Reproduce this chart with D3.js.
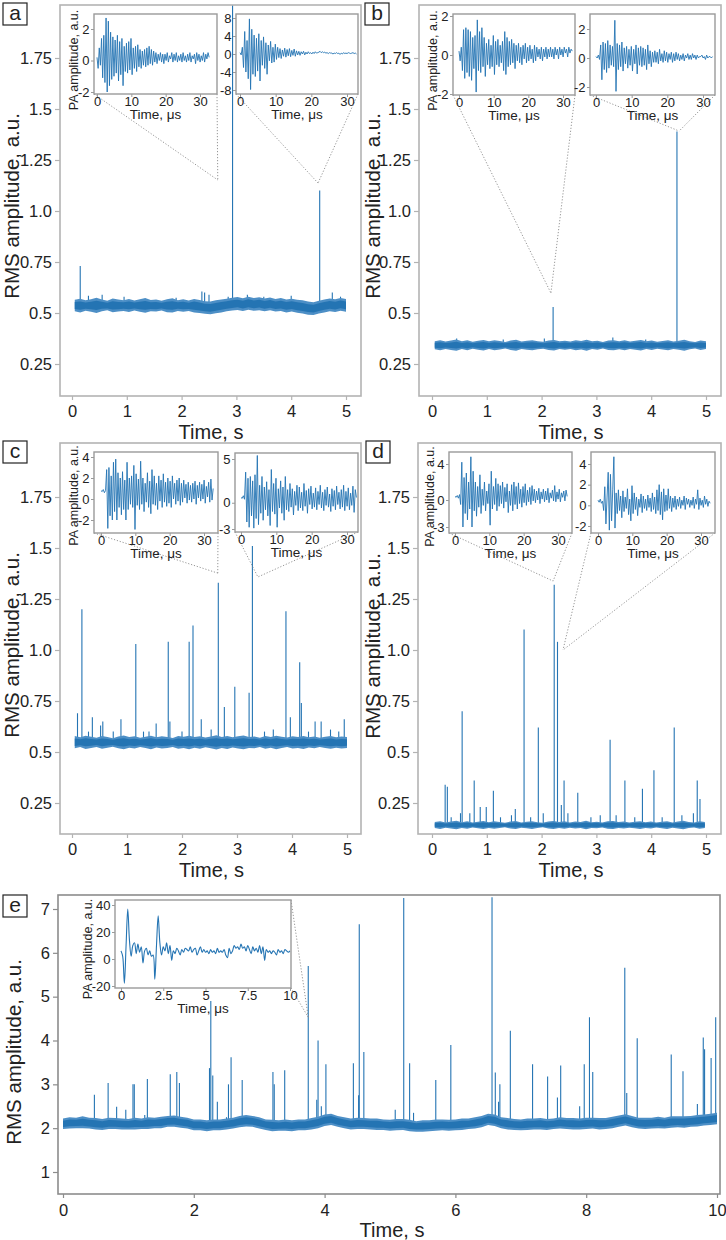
<!DOCTYPE html>
<html><head><meta charset="utf-8">
<script src="https://cdn.jsdelivr.net/npm/d3@7"></script>
<style>body{margin:0;background:#fff}svg{display:block}text{font-family:"Liberation Sans",Arial,sans-serif}</style>
</head><body><svg id="c" width="726" height="1240"></svg>
<script>
// ---------------- DATA ----------------
const timeTicks5 = [0,1,2,3,4,5];
const timeTicks10 = [0,2,4,6,8,10];
const rmsTicks = [0.25,0.5,0.75,1.0,1.25,1.5,1.75];
const rmsTickLabels = ["0.25","0.5","0.75","1.0","1.25","1.5","1.75"];
const rmsTicksE = [1,2,3,4,5,6,7];
const usTicks = [0,10,20,30];
const usTicksE = [0,2.5,5,7.5,10];
const usTickLabelsE = ["0","2.5","5","7.5","10"];

// baseline noise band (upper / lower envelopes), evenly spread over [t0,t1] seconds
const baseSpanA = [0.05,5.0];
const upperA = [0.565,0.57,0.562,0.568,0.575,0.566,0.56,0.571,0.566,0.563,0.569,0.561,0.567,0.573,0.564,0.566,0.56,0.568,0.572,0.563,0.567,0.561,0.569,0.564,0.558,0.556,0.562,0.566,0.57,0.575,0.578,0.572,0.58,0.574,0.577,0.571,0.576,0.569,0.573,0.566,0.57,0.565,0.562,0.556,0.553,0.56,0.566,0.571,0.568,0.574,0.569];
const lowerA = [0.508,0.503,0.511,0.506,0.5,0.509,0.513,0.504,0.507,0.51,0.505,0.512,0.506,0.501,0.509,0.507,0.512,0.504,0.502,0.51,0.506,0.51,0.503,0.5,0.496,0.494,0.499,0.503,0.508,0.512,0.515,0.51,0.516,0.511,0.514,0.508,0.513,0.507,0.51,0.503,0.507,0.501,0.497,0.492,0.49,0.497,0.503,0.508,0.505,0.511,0.506];
const spikesA = [[0.15,0.73],[2.93,2.1],[4.52,1.1],[0.3,0.585],[0.55,0.59],[0.95,0.58],[1.9,0.575],[2.37,0.605],[2.42,0.6],[2.5,0.59],[2.85,0.58],[3.2,0.59],[3.5,0.58],[4.0,0.585],[4.75,0.6],[4.9,0.58]];

const baseSpanB = [0.05,5.0];
const upperB = [0.362,0.367,0.36,0.365,0.37,0.361,0.366,0.359,0.364,0.368,0.361,0.366,0.363,0.358,0.365,0.369,0.36,0.364,0.367,0.362,0.359,0.365,0.368,0.361,0.364,0.36,0.366,0.363,0.369,0.361,0.364,0.358,0.365,0.367,0.362,0.366,0.36,0.364,0.368,0.361,0.365,0.359,0.363,0.367,0.36,0.364,0.369,0.362,0.358,0.365,0.361];
const lowerB = [0.322,0.317,0.324,0.319,0.315,0.323,0.318,0.325,0.32,0.316,0.323,0.318,0.321,0.326,0.319,0.315,0.324,0.32,0.317,0.322,0.325,0.319,0.316,0.323,0.32,0.324,0.318,0.321,0.315,0.323,0.32,0.326,0.319,0.317,0.322,0.318,0.324,0.32,0.316,0.323,0.319,0.325,0.321,0.317,0.324,0.32,0.315,0.322,0.326,0.319,0.323];
const spikesB = [[2.21,0.53],[4.47,1.39],[0.45,0.375],[1.3,0.37],[2.05,0.375],[3.3,0.38],[3.9,0.37]];

const baseSpanC = [0.05,5.0];
const upperC = [0.578,0.572,0.58,0.575,0.57,0.579,0.574,0.568,0.576,0.581,0.573,0.577,0.57,0.575,0.58,0.572,0.577,0.574,0.569,0.578,0.575,0.58,0.573,0.577,0.571,0.576,0.582,0.574,0.579,0.572,0.577,0.581,0.574,0.576,0.57,0.578,0.573,0.58,0.575,0.571,0.577,0.574,0.579,0.572,0.576,0.57,0.575,0.578,0.572,0.576,0.573];
const lowerC = [0.518,0.524,0.515,0.52,0.525,0.516,0.521,0.526,0.518,0.513,0.521,0.517,0.524,0.519,0.514,0.522,0.517,0.52,0.525,0.516,0.519,0.513,0.521,0.516,0.523,0.518,0.512,0.52,0.515,0.522,0.517,0.513,0.52,0.518,0.524,0.516,0.521,0.514,0.519,0.524,0.517,0.52,0.515,0.522,0.518,0.524,0.519,0.516,0.521,0.517,0.52];
const spikesC = [[0.10,0.69],[0.18,1.20],[0.37,0.67],[0.52,0.63],[0.56,0.65],[0.89,0.66],[1.16,1.03],[1.30,0.60],[1.53,0.64],[1.75,1.04],[1.78,0.65],[2.13,1.04],[2.20,1.12],[2.35,0.66],[2.53,0.61],[2.66,1.33],[2.77,0.72],[2.96,0.82],[3.22,0.79],[3.28,1.51],[3.66,0.61],[3.89,1.19],[3.97,0.67],[4.14,0.94],[4.17,0.74],[4.42,0.65],[4.53,0.65],[4.95,0.66],[0.3,0.6],[0.75,0.6],[1.4,0.6],[2.0,0.6],[3.5,0.6],[4.3,0.6],[4.7,0.61],[4.85,0.6]];

const baseSpanD = [0.05,4.98];
const upperD = [0.157,0.161,0.155,0.159,0.163,0.156,0.16,0.154,0.158,0.162,0.156,0.16,0.157,0.153,0.159,0.162,0.155,0.158,0.161,0.156,0.153,0.159,0.162,0.157,0.16,0.155,0.159,0.157,0.163,0.156,0.158,0.154,0.16,0.162,0.157,0.159,0.155,0.158,0.161,0.156,0.159,0.154,0.158,0.161,0.155,0.159,0.163,0.157,0.154,0.16,0.157];
const lowerD = [0.127,0.123,0.129,0.125,0.121,0.128,0.124,0.13,0.126,0.122,0.128,0.124,0.127,0.131,0.125,0.122,0.129,0.126,0.123,0.128,0.131,0.125,0.122,0.127,0.124,0.129,0.125,0.127,0.121,0.128,0.126,0.13,0.124,0.122,0.127,0.125,0.129,0.126,0.123,0.128,0.125,0.13,0.126,0.123,0.129,0.125,0.121,0.127,0.13,0.124,0.127];
const spikesD = [[0.24,0.34],[0.28,0.33],[0.52,0.2],[0.55,0.70],[0.69,0.2],[0.77,0.36],[0.88,0.23],[0.99,0.23],[1.12,0.31],[1.45,0.19],[1.52,0.22],[1.68,1.10],[1.94,0.62],[2.03,0.2],[2.23,1.32],[2.29,1.04],[2.36,0.24],[2.41,0.36],[2.48,0.2],[2.66,0.30],[3.07,0.19],[3.25,0.56],[3.36,0.19],[3.52,0.36],[3.84,0.32],[4.05,0.41],[4.42,0.62],[4.56,0.19],[4.77,0.2],[4.84,0.36],[4.89,0.27],[0.35,0.18],[1.25,0.18],[1.8,0.18],[2.9,0.18],[3.7,0.18],[4.2,0.18]];

const baseSpanE = [0.0,10.0];
const upperE = [2.22,2.25,2.24,2.27,2.24,2.23,2.21,2.24,2.23,2.22,2.21,2.24,2.22,2.25,2.24,2.26,2.28,2.29,2.26,2.24,2.2,2.2,2.18,2.2,2.2,2.22,2.24,2.28,2.3,2.28,2.25,2.2,2.19,2.18,2.2,2.18,2.2,2.2,2.23,2.26,2.31,2.33,2.28,2.25,2.22,2.24,2.23,2.22,2.22,2.2,2.19,2.21,2.21,2.19,2.16,2.18,2.18,2.2,2.2,2.19,2.2,2.22,2.22,2.25,2.28,2.33,2.31,2.25,2.23,2.21,2.2,2.22,2.22,2.23,2.21,2.22,2.25,2.23,2.23,2.22,2.24,2.24,2.23,2.23,2.26,2.29,2.32,2.28,2.24,2.24,2.24,2.26,2.24,2.27,2.27,2.27,2.28,2.3,2.31,2.33,2.35];
const lowerE = [1.98,1.99,2.0,2.0,1.99,1.97,1.96,1.98,1.98,1.97,1.97,1.97,1.98,1.98,2.0,2.0,2.03,2.03,2.01,1.99,1.95,1.95,1.93,1.95,1.95,1.97,1.99,2.02,2.04,2.03,1.99,1.96,1.93,1.94,1.94,1.93,1.95,1.95,1.97,2.0,2.05,2.07,2.03,2.0,1.97,1.98,1.98,1.97,1.96,1.96,1.94,1.95,1.96,1.93,1.92,1.92,1.93,1.94,1.95,1.94,1.95,1.96,1.98,1.99,2.02,2.07,2.05,2.0,1.97,1.96,1.95,1.96,1.97,1.97,1.96,1.98,1.99,1.98,1.97,1.97,1.98,1.99,1.97,1.98,2.0,2.03,2.06,2.02,1.99,1.98,1.99,2.0,1.99,2.01,2.02,2.01,2.03,2.04,2.06,2.07,2.09];
const spikesE = [[0.48,2.76],[0.69,3.03],[0.82,2.49],[0.96,2.42],[1.07,3.0],[1.09,3.0],[1.29,3.12],[1.64,3.23],[1.74,3.28],[1.78,3.03],[2.24,3.37],[2.26,4.9],[2.29,3.2],[2.36,2.6],[2.53,3.0],[2.57,3.62],[2.74,3.1],[3.21,3.28],[3.23,3.0],[3.39,3.32],[3.75,5.7],[3.88,2.65],[3.90,4.0],[3.95,2.5],[4.02,3.46],[4.44,3.48],[4.52,2.75],[4.53,6.65],[4.60,3.74],[5.08,2.42],[5.21,7.25],[5.30,3.48],[5.36,2.35],[5.70,3.1],[5.93,3.9],[6.56,7.27],[6.61,3.27],[6.66,2.6],[6.68,3.0],[6.84,4.22],[7.18,3.46],[7.41,3.18],[7.56,2.7],[7.61,3.43],[7.90,2.5],[7.97,3.46],[8.05,4.53],[8.10,3.28],[8.59,5.66],[8.62,2.8],[8.78,4.05],[9.30,3.68],[9.48,3.3],[9.70,2.55],[9.79,4.07],[9.81,3.8],[9.91,3.6],[9.98,4.53],[1.25,2.3],[2.5,2.25]];

// photoacoustic waveforms (sample step in microseconds)
const waveStep = 0.33;
const waveA1 = [0.2,-0.5,0.8,-0.3,1.4,-1.1,1.6,-1.4,2.7,-2.0,2.5,-1.6,1.8,-1.2,1.5,-1.0,1.3,-0.8,1.6,-1.3,1.2,-0.9,1.4,-1.6,0.9,-0.7,1.1,-0.8,1.2,-0.6,1.4,-0.9,0.8,-0.5,0.9,-0.7,1.0,-0.4,0.7,-0.5,0.6,-0.3,0.7,-0.4,0.8,-0.3,0.9,-0.2,0.7,-0.3,0.6,-0.1,0.5,-0.2,0.4,0.0,0.5,-0.1,0.4,-0.2,0.4,0.0,0.5,-0.1,0.3,0.1,0.5,-0.1,0.4,0.0,0.5,-0.1,0.3,0.0,0.4,-0.1,0.5,0.0,0.3,-0.1,0.4,0.0,0.5,-0.1,0.3,0.1,0.4,-0.2,0.5,0.0,0.4,-0.1,0.3,0.0,0.5,-0.1,0.4,0.1,0.5,0.2];
const waveA2 = [0.3,-0.2,1.5,-3.0,5.0,-4.0,3.0,-5.5,7.8,-7.9,5.5,-4.5,4.2,-5.0,3.5,-3.8,4.5,-6.0,3.0,-2.5,3.8,-3.2,2.5,-4.5,2.0,-1.5,2.8,-2.0,1.5,-1.8,2.2,-1.2,1.5,-0.8,1.2,-1.0,0.9,-0.5,1.3,-0.7,1.0,-0.4,1.2,-0.6,0.8,-0.3,1.1,-0.5,0.7,-0.2,0.6,-0.3,0.5,0.0,0.6,-0.2,0.4,0.0,0.5,0.1,0.3,0.0,0.4,0.1,0.5,0.2,0.3,0.4,0.6,0.3,0.5,0.3,0.4,0.2,0.3,0.1,0.3,0.2,0.2,0.0,0.2,0.1,0.3,0.1,0.2,-0.1,0.2,0.0,0.3,0.1,0.2,0.1,0.3,0.2,0.1,0.2,0.3,0.1,0.2,0.0];
const waveB1 = [0.2,-0.3,0.4,-0.8,1.3,-1.2,1.4,-0.9,1.3,-1.1,1.2,-1.3,0.9,-0.7,1.0,-1.9,1.8,-0.8,1.2,-0.9,1.4,-0.6,0.9,-1.1,0.6,-0.5,0.8,-0.7,0.5,-0.6,1.0,-1.0,0.7,-0.5,0.8,-0.6,0.5,-0.4,0.7,-0.8,1.2,-1.0,0.9,-0.6,0.7,-0.5,0.8,-0.4,0.6,-0.7,0.5,-0.3,0.6,-0.4,0.4,-0.5,0.5,-0.2,0.6,-0.4,0.4,-0.3,0.5,-0.2,0.3,-0.4,0.5,-0.3,0.4,-0.1,0.3,-0.2,0.4,-0.3,0.3,-0.1,0.4,-0.2,0.3,-0.1,0.4,-0.1,0.3,-0.2,0.4,0.0,0.3,-0.2,0.4,0.0,0.3,-0.1,0.4,0.1,0.3,-0.1,0.4,0.1,0.3,0.2];
const waveB2 = [0.1,0.0,0.2,-0.1,0.9,-1.5,1.1,-0.8,1.0,-1.0,1.2,-0.7,0.9,-0.5,0.8,-0.6,2.6,-2.3,1.0,-0.8,0.9,-0.6,1.1,-0.9,0.7,-0.4,0.8,-0.7,0.6,-0.5,0.8,-0.9,0.6,-0.4,0.9,-1.1,0.7,-0.5,0.8,-0.6,0.7,-0.5,0.6,-0.8,0.9,-0.4,0.5,-0.6,0.4,-0.3,0.5,-0.3,0.4,-0.4,0.6,-0.2,0.3,-0.3,0.5,-0.2,0.4,-0.3,0.3,-0.1,0.4,-0.3,0.3,-0.2,0.4,-0.1,0.3,-0.2,0.2,-0.1,0.3,-0.2,0.2,0.0,0.3,-0.1,0.2,-0.1,0.3,0.0,0.2,-0.1,0.2,0.0,0.1,0.1,0.2,0.0,0.1,-0.1,0.2,0.0,0.1,0.1,0.0,0.1];
const waveC1 = [0.8,0.7,0.9,0.6,0.8,2.8,-2.8,3.0,-1.6,2.2,-2.0,3.5,-1.2,3.8,-2.0,2.5,-0.8,2.0,-1.5,2.6,-1.0,1.8,-2.0,3.5,-1.0,2.0,-0.5,2.2,-0.8,3.2,-2.9,2.4,-0.6,1.9,-1.0,3.6,-0.5,2.0,-1.2,1.5,-0.3,2.5,-0.8,1.7,-1.4,2.8,-0.5,2.2,-0.6,1.5,-1.0,2.2,-0.2,1.8,-0.8,2.4,-0.3,1.6,-0.7,2.0,-0.4,1.7,-0.8,2.2,0.0,1.5,-0.5,1.8,-0.2,2.0,-0.6,1.5,-0.3,1.8,0.1,1.4,-0.4,1.6,-0.1,1.3,-0.3,1.5,0.0,1.7,-0.5,1.3,0.1,1.6,-0.2,1.4,0.0,1.8,-0.4,1.2,0.2,1.6,-0.3,1.9,-0.1,1.0];
const waveC2 = [0.6,0.5,0.8,0.4,3.5,-2.2,2.8,-2.8,3.0,-1.5,2.5,-2.9,3.2,-1.8,5.4,-2.5,2.0,-1.2,3.0,-2.0,1.8,-0.8,2.4,-1.5,1.5,-2.6,3.8,-1.0,2.2,-1.3,2.8,-2.8,1.6,-0.6,2.5,-1.2,1.8,-2.0,3.0,-0.8,1.5,-1.0,2.2,-0.5,1.6,-1.4,1.3,-0.3,2.0,-0.9,1.8,-0.6,1.2,-0.9,2.2,-0.4,1.4,-1.2,1.6,-0.2,1.9,-0.7,1.1,-0.5,1.7,-0.8,1.3,-0.2,2.0,-0.6,1.2,-0.9,1.5,-0.3,1.8,-0.5,1.0,-1.0,1.6,-0.4,1.4,-0.8,1.9,-0.2,1.2,-0.7,1.5,-0.5,2.0,-0.9,1.3,-0.4,1.7,-0.8,1.1,-0.3,1.9,-1.1,1.5,0.6];
const waveD1 = [0.4,0.3,0.5,0.2,0.6,-0.5,4.2,-3.0,2.5,-1.5,3.0,-2.2,2.0,-1.0,4.8,-3.0,3.2,-1.2,2.0,-1.8,1.5,-0.8,2.8,-1.5,1.2,-0.6,2.0,-1.2,1.0,-0.4,1.8,-2.8,3.2,-1.0,1.5,-0.5,2.4,-1.2,1.8,-0.7,1.6,-0.4,2.0,-0.9,1.4,-0.2,1.8,-1.4,1.0,-0.6,1.7,-1.2,2.0,-0.5,1.5,-1.0,1.9,-0.4,1.2,-0.8,1.5,-0.3,1.8,-0.6,1.1,-0.2,1.4,-0.5,1.6,-0.1,1.2,-0.3,1.0,0.0,1.3,-0.4,0.9,0.1,1.2,-0.2,1.0,0.0,1.3,-0.3,0.8,0.2,1.1,-0.1,1.6,-0.2,0.9,0.1,1.2,-0.2,0.8,0.3,1.0,-0.1,1.1,0.4];
const waveD2 = [0.5,0.3,0.6,0.2,0.4,-0.5,1.8,-1.8,0.8,3.2,-2.4,3.0,-1.5,1.5,4.7,-2.2,1.2,-0.8,1.5,-0.5,0.9,-1.2,1.4,-0.6,0.8,-0.3,1.6,-0.9,0.6,-1.5,1.9,-0.8,1.2,-0.4,0.8,-1.0,0.6,-0.2,1.1,-0.7,0.9,-0.3,0.6,-0.5,1.0,-0.2,0.7,-0.6,1.2,-0.4,0.8,-0.8,1.5,-0.5,2.0,-0.9,1.3,-1.4,1.6,-0.6,1.0,-0.5,1.6,-0.3,0.9,-0.6,0.7,-0.2,0.9,-0.4,0.6,-0.1,0.8,-0.3,0.5,0.0,0.9,-0.4,0.7,0.1,0.6,-0.2,0.5,0.0,0.8,-0.3,0.6,0.1,1.5,-0.4,0.7,0.0,0.5,-0.2,0.9,0.1,0.6,-0.1,0.4,0.2];
const waveStepE = 0.1;
const waveE1 = [6,2,-18,10,37,14,2,10,12,4,11,5,9,-3,6,8,3,6,2,3,-15,10,32,12,3,9,6,12,4,10,-1,6,4,8,6,3,7,5,8,7,6,9,5,7,8,3,6,9,5,7,5,6,4,7,5,6,4,8,5,6,5,7,3,1,8,4,6,10,8,9,7,11,8,9,6,10,7,4,9,6,8,5,10,4,9,-1,7,5,6,4,6,5,3,7,5,6,4,7,6,5,6];

// connector targets on the main traces [time s, RMS a.u.]
const targetA1 = [2.66,1.152], targetA2 = [4.49,1.137];
const targetB1 = [2.17,0.598], targetB2 = [4.51,1.392];
const targetC1 = [2.65,1.377], targetC2 = [3.38,1.358];
const targetD1 = [2.21,1.338], targetD2 = [2.39,1.0];
const targetE1 = [3.75,4.53];

// ---------------- DRAWING ----------------
const svg = d3.select("#c");
const BLUE = "#2474b3";
const BLUE_LIGHT = "#4d8fc6";
const TXT = "#222";
let clipN = 0;

function mainPanel(L, span, upper, lower, spikes) {
  const [bx0, by0, bx1, by1] = L.box;
  const x = d3.scaleLinear().domain(L.xd).range(L.xr);
  const y = d3.scaleLinear().domain(L.yd).range(L.yr);
  const id = "clip" + (clipN++);
  svg.append("clipPath").attr("id", id).append("rect")
    .attr("x", bx0).attr("y", by0).attr("width", bx1 - bx0).attr("height", by1 - by0);
  const g = svg.append("g").attr("clip-path", `url(#${id})`);
  const n = upper.length;
  const tAt = i => span[0] + i * (span[1] - span[0]) / (n - 1);
  const baseAt = t => {
    let i = Math.round((t - span[0]) / (span[1] - span[0]) * (n - 1));
    i = Math.max(0, Math.min(n - 1, i));
    return (upper[i] + lower[i]) / 2;
  };
  g.selectAll("line.sp").data(spikes).join("line").attr("class", "sp")
    .attr("x1", d => x(d[0])).attr("x2", d => x(d[0]))
    .attr("y1", d => y(baseAt(d[0]))).attr("y2", d => y(d[1]))
    .attr("stroke", BLUE).attr("stroke-width", 1.1);
  // outer (lighter) noise envelope
  const area = d3.area().x((v, i) => x(tAt(i))).y0((v, i) => y(lower[i])).y1(v => y(v));
  g.append("path").datum(upper).attr("d", area).attr("fill", BLUE_LIGHT);
  // darker core of the same envelope (drawn narrower for shading)
  const core = d3.area().x((v, i) => x(tAt(i)))
    .y0((v, i) => y(lower[i]) - (y(lower[i]) - y(upper[i])) * 0.2)
    .y1((v, i) => y(upper[i]) + (y(lower[i]) - y(upper[i])) * 0.2);
  g.append("path").datum(upper).attr("d", core).attr("fill", BLUE);

  // frame
  svg.append("rect").attr("x", bx0).attr("y", by0).attr("width", bx1 - bx0).attr("height", by1 - by0)
    .attr("fill", "none").attr("stroke", L.frame).attr("stroke-width", 1.6);

  // axes
  const ya = svg.append("g").attr("transform", `translate(${bx0},0)`)
    .call(d3.axisLeft(y).tickValues(L.yTicks).tickFormat((d, i) => L.yLabels[i]).tickSize(5).tickPadding(3));
  const xa = svg.append("g").attr("transform", `translate(0,${by1})`)
    .call(d3.axisBottom(x).tickValues(L.xTicks).tickFormat(d => String(d)).tickSize(4));
  [ya, xa].forEach(a => {
    a.select(".domain").remove();
    a.selectAll(".tick line").attr("stroke", L.frame).attr("stroke-width", 1.2);
    a.selectAll("text").attr("fill", TXT).style("font-size", "16.5px").style("font-family", '"Liberation Sans",Arial,sans-serif');
  });
  xa.selectAll("text").attr("dy", null).attr("y", L.xLabelDy);

  svg.append("text").attr("x", (L.xr[0] + L.xr[1]) / 2 + 2).attr("y", by1 + L.xTitleDy)
    .attr("text-anchor", "middle").attr("fill", TXT).style("font-size", "20px").text("Time, s");
  svg.append("text").attr("transform", `translate(${L.yTitleX},${L.yTitleY}) rotate(-90)`)
    .attr("text-anchor", "middle").attr("fill", TXT).style("font-size", "20.5px").text("RMS amplitude, a.u.");

  // panel tag
  svg.append("rect").attr("x", L.tag[0]).attr("y", L.tag[1]).attr("width", 24).attr("height", 22)
    .attr("fill", "#fff").attr("stroke", "#222").attr("stroke-width", 1.2);
  svg.append("text").attr("x", L.tag[0] + 12).attr("y", L.tag[1] + 17).attr("text-anchor", "middle")
    .attr("fill", "#222").style("font-size", "21px").text(L.name);
  return { x, y };
}

function connector(I, target, sc, corners) {
  const [bx0, by0, bx1, by1] = I.box;
  const pts = { bl: [bx0, by1], br: [bx1, by1], tr: [bx1, by0] };
  const tx = sc.x(target[0]), ty = sc.y(target[1]);
  corners.forEach(c => {
    svg.append("line").attr("x1", pts[c][0]).attr("y1", pts[c][1]).attr("x2", tx).attr("y2", ty)
      .attr("stroke", "#8a8a8a").attr("stroke-width", 0.9).attr("stroke-dasharray", "1.2,1.8");
  });
}

function inset(I, values, step) {
  const [bx0, by0, bx1, by1] = I.box;
  const x = d3.scaleLinear().domain(I.xd).range(I.xr);
  const y = d3.scaleLinear().domain(I.yd).range(I.yr);
  svg.append("rect").attr("x", bx0).attr("y", by0).attr("width", bx1 - bx0).attr("height", by1 - by0)
    .attr("fill", "#fff");
  const id = "clip" + (clipN++);
  svg.append("clipPath").attr("id", id).append("rect")
    .attr("x", bx0).attr("y", by0).attr("width", bx1 - bx0).attr("height", by1 - by0);
  const line = d3.line().x((v, i) => x(i * step)).y(v => y(v));
  if (I.smooth) line.curve(d3.curveCatmullRom);
  svg.append("path").datum(values).attr("d", line).attr("clip-path", `url(#${id})`)
    .attr("fill", "none").attr("stroke", BLUE).attr("stroke-width", I.smooth ? 1.1 : 0.9).attr("stroke-linejoin", "round");
  svg.append("rect").attr("x", bx0).attr("y", by0).attr("width", bx1 - bx0).attr("height", by1 - by0)
    .attr("fill", "none").attr("stroke", "#9a9a9a").attr("stroke-width", 1.4);
  const ya = svg.append("g").attr("transform", `translate(${bx0},0)`)
    .call(d3.axisLeft(y).tickValues(I.yTicks).tickFormat(d => String(d)).tickSize(3).tickPadding(1.5));
  const xa = svg.append("g").attr("transform", `translate(0,${by1})`)
    .call(d3.axisBottom(x).tickValues(I.xTicks).tickFormat((d, i) => I.xLabels ? I.xLabels[i] : String(d)).tickSize(3));
  [ya, xa].forEach(a => {
    a.select(".domain").remove();
    a.selectAll(".tick line").attr("stroke", "#9a9a9a");
    a.selectAll("text").attr("fill", TXT).style("font-size", "13px").style("font-family", '"Liberation Sans",Arial,sans-serif');
  });
  xa.selectAll("text").attr("dy", null).attr("y", I.tickDy || 11.5);
  svg.append("text").attr("x", (bx0 + bx1) / 2).attr("y", by1 + (I.titleDy || 25))
    .attr("text-anchor", "middle").attr("fill", TXT).style("font-size", "13.5px").text("Time, \u03bcs");
  if (I.ylab) {
    svg.append("text").attr("transform", `translate(${bx0 - I.ylabDx},${(by0 + by1) / 2 + I.ylabDy}) rotate(-90)`)
      .attr("text-anchor", "middle").attr("fill", TXT).style("font-size", "12.5px").text("PA amplitude, a.u.");
  }
}

// layouts
const common = { xd: [0, 5], yd: [0.25, 1.75], yTicks: rmsTicks, yLabels: rmsTickLabels, xTicks: timeTicks5, frame: "#b3b3b3", xLabelDy: 21, xTitleDy: 43 };
const LA = Object.assign({}, common, { name: "a", box: [60, 5, 361, 396], xr: [72, 346], yr: [364, 58], yTitleX: 19, yTitleY: 206, tag: [3, 3] });
const LB = Object.assign({}, common, { name: "b", box: [419, 5, 721, 396], xr: [432, 706], yr: [364, 58], yTitleX: 380, yTitleY: 206, tag: [365, 3] });
const LC = Object.assign({}, common, { name: "c", box: [60, 443, 361, 834], xr: [72, 347], yr: [803, 497], yTitleX: 19, yTitleY: 645, tag: [3, 441] });
const LD = Object.assign({}, common, { name: "d", box: [418, 443, 721, 834], xr: [432, 706], yr: [803, 497], yTitleX: 380, yTitleY: 646, tag: [366, 441] });
const LE = { name: "e", box: [58, 895, 720, 1194], xd: [0, 10], xr: [63, 717], yd: [1, 7], yr: [1172, 909], yTicks: rmsTicksE, yLabels: rmsTicksE.map(String), xTicks: timeTicks10, frame: "#8c8c8c", xLabelDy: 22, xTitleDy: 43, yTitleX: 21, yTitleY: 1052, tag: [3, 895] };

const sA = mainPanel(LA, baseSpanA, upperA, lowerA, spikesA);
const sB = mainPanel(LB, baseSpanB, upperB, lowerB, spikesB);
const sC = mainPanel(LC, baseSpanC, upperC, lowerC, spikesC);
const sD = mainPanel(LD, baseSpanD, upperD, lowerD, spikesD);
const sE = mainPanel(LE, baseSpanE, upperE, lowerE, spikesE);

const IA1 = { box: [94, 14, 217, 94], xd: [0, 30], xr: [97, 200], yd: [-2, 2], yr: [92, 29], yTicks: [-2, 0, 2], xTicks: usTicks, ylab: true, ylabDx: 16, ylabDy: 6 };
const IA2 = { box: [236, 14, 358, 94], xd: [0, 30], xr: [240, 347], yd: [-8, 8], yr: [90, 18], yTicks: [-8, -4, 0, 4, 8], xTicks: usTicks };
const IB1 = { box: [453, 14, 575, 95], xd: [0, 30], xr: [459, 563], yd: [-2, 2], yr: [94, 16], yTicks: [-2, 0, 2], xTicks: usTicks, ylab: true, ylabDx: 16, ylabDy: 6 };
const IB2 = { box: [590, 14, 715, 95], xd: [0, 30], xr: [596, 703], yd: [-2, 2], yr: [87, 29], yTicks: [-2, 0, 2], xTicks: usTicks };
const IC1 = { box: [94, 452, 218, 533], xd: [0, 30], xr: [101, 204], yd: [-2, 4], yr: [520, 457], yTicks: [-2, 0, 2, 4], xTicks: usTicks, ylab: true, ylabDx: 16, ylabDy: 3 };
const IC2 = { box: [235, 453, 358, 532], xd: [0, 30], xr: [241, 347], yd: [-3, 5], yr: [529, 459], yTicks: [-3, 0, 5], xTicks: usTicks };
const ID1 = { box: [449, 452, 572, 533], xd: [0, 30], xr: [455, 558], yd: [-3, 4], yr: [527, 464], yTicks: [-3, 0, 4], xTicks: usTicks, ylab: true, ylabDx: 15, ylabDy: 4 };
const ID2 = { box: [591, 452, 715, 533], xd: [0, 30], xr: [598, 701], yd: [-2, 4], yr: [526, 464], yTicks: [-2, 0, 2, 4], xTicks: usTicks };
const IE1 = { box: [115, 900, 291, 988], xd: [0, 10], xr: [121, 290], yd: [-20, 40], yr: [986, 905], yTicks: [-20, 0, 20, 40], xTicks: usTicksE, xLabels: usTickLabelsE, ylab: true, ylabDx: 23, ylabDy: 5, smooth: true, tickDy: 12, titleDy: 25 };

connector(IA1, targetA1, sA, ["bl", "br"]);
connector(IA2, targetA2, sA, ["bl", "br"]);
connector(IB1, targetB1, sB, ["bl", "br"]);
connector(IB2, targetB2, sB, ["bl", "br"]);
connector(IC1, targetC1, sC, ["bl", "br"]);
connector(IC2, targetC2, sC, ["bl", "br"]);
connector(ID1, targetD1, sD, ["bl", "br"]);
connector(ID2, targetD2, sD, ["bl", "br"]);
connector(IE1, targetE1, sE, ["tr", "br"]);

inset(IA1, waveA1, waveStep);
inset(IA2, waveA2, waveStep);
inset(IB1, waveB1, waveStep);
inset(IB2, waveB2, waveStep);
inset(IC1, waveC1, waveStep);
inset(IC2, waveC2, waveStep);
inset(ID1, waveD1, waveStep);
inset(ID2, waveD2, waveStep);
inset(IE1, waveE1, waveStepE);
</script></body></html>
